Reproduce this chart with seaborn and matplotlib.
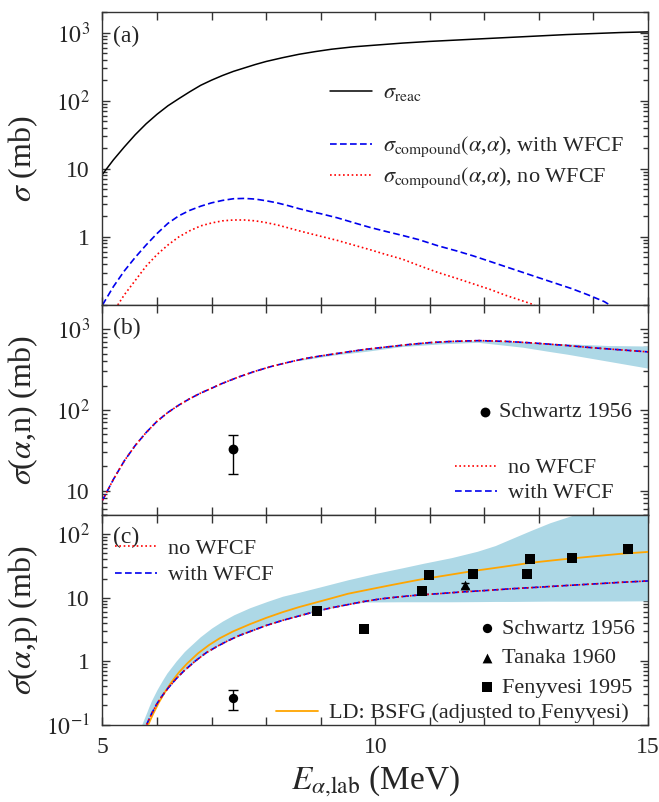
import numpy as np
import pandas as pd
import matplotlib
matplotlib.use("Agg")
import matplotlib.pyplot as plt
import seaborn as sns
from matplotlib.ticker import FixedLocator, LogLocator, NullFormatter, MultipleLocator, FixedFormatter

# ---------------- data ----------------
# panel (a)
E_reac = [5.0, 5.2, 5.4, 5.6, 5.8, 6.0, 6.2, 6.4, 6.6, 6.8, 7.0, 7.2, 7.4, 7.6, 7.8, 8.0,
          8.3, 8.6, 8.9, 9.2, 9.6, 10.0, 10.5, 11.0, 11.5, 12.0, 12.5, 13.0, 13.5, 14.0,
          14.5, 15.0]
sig_reac = [8.3, 13.5, 20.9, 31.6, 45.7, 63.1, 84.1, 107, 135, 168, 200, 234, 269, 302, 339,
            376, 427, 479, 525, 569, 617, 653, 700, 741, 776, 813, 851, 891, 933, 966,
            1000, 1023]

E_comp_w = [5.0, 5.2, 5.4, 5.6, 5.8, 6.0, 6.2, 6.4, 6.6, 6.8, 7.0, 7.2, 7.4, 7.6, 7.8, 8.0,
            8.2, 8.4, 8.6, 8.8, 9.0, 9.3, 9.6, 9.9, 10.2, 10.5, 10.8, 11.15, 11.5, 11.8,
            12.1, 12.4, 12.7, 13.0, 13.3, 13.6, 13.9, 14.2, 14.3]
sig_comp_w = [0.1, 0.186, 0.316, 0.50, 0.76, 1.12, 1.58, 2.04, 2.45, 2.82, 3.16, 3.43, 3.63,
              3.67, 3.59, 3.39, 3.16, 2.88, 2.60, 2.37, 2.19, 1.91, 1.62, 1.38, 1.20, 1.05,
              0.91, 0.74, 0.62, 0.525, 0.437, 0.363, 0.302, 0.251, 0.209, 0.174, 0.141,
              0.112, 0.1]

E_comp_n = [5.28, 5.4, 5.6, 5.8, 6.0, 6.2, 6.4, 6.6, 6.8, 7.0, 7.2, 7.4, 7.6, 7.8, 8.0, 8.2,
            8.4, 8.6, 8.8, 9.0, 9.3, 9.6, 9.9, 10.2, 10.5, 10.8, 11.15, 11.5, 11.8, 12.1,
            12.4, 12.7, 12.92]
sig_comp_n = [0.1, 0.141, 0.229, 0.372, 0.55, 0.76, 1.0, 1.23, 1.45, 1.60, 1.72, 1.77, 1.77,
              1.72, 1.62, 1.50, 1.36, 1.23, 1.12, 1.02, 0.89, 0.76, 0.65, 0.55, 0.47, 0.38,
              0.30, 0.245, 0.204, 0.17, 0.138, 0.115, 0.1]

# panel (b)  (alpha,n)
E_an = [5.0, 5.2, 5.4, 5.6, 5.8, 6.0, 6.2, 6.4, 6.6, 6.8, 7.0, 7.2, 7.5, 7.8, 8.1, 8.4, 8.7,
        9.0, 9.4, 9.8, 10.2, 10.6, 11.0, 11.4, 11.9, 12.4, 12.9, 13.5, 14.0, 14.5, 15.0]
sig_an = [7.6, 13.8, 23.4, 36.3, 52.5, 72.4, 93.3, 115, 138, 162, 186, 214, 257, 302, 347,
          389, 432, 468, 513, 562, 603, 646, 684, 708, 724, 708, 676, 631, 589, 556, 525]
band_b_E = [8.6, 9.24, 9.85, 10.47, 11.2, 11.88, 12.7, 13.2, 13.53, 14.26, 15.0]
band_b_lo = [410, 480, 535, 610, 660, 690, 600, 530, 490, 403, 330]
band_b_hi = [430, 505, 575, 650, 705, 735, 700, 670, 660, 630, 620]
schw_b_E, schw_b_y, schw_b_lo, schw_b_hi = [7.40], [33.0], [16.7], [16.0]

# panel (c)  (alpha,p)
E_ap = [5.81, 5.9, 6.0, 6.1, 6.2, 6.35, 6.5, 6.7, 6.9, 7.1, 7.3, 7.5, 7.75, 8.0, 8.3, 8.6,
        8.9, 9.2, 9.5, 9.8, 10.1, 10.4, 10.8, 11.2, 11.6, 12.0, 12.5, 13.0, 13.5, 14.0,
        14.5, 15.0]
sig_ap = [0.1, 0.148, 0.214, 0.288, 0.372, 0.525, 0.708, 1.0, 1.35, 1.70, 2.09, 2.51, 3.02,
          3.63, 4.37, 5.13, 6.03, 6.92, 7.76, 8.71, 9.55, 10.2, 11.0, 11.6, 12.3, 12.9,
          13.8, 14.6, 15.5, 16.4, 17.4, 18.3]
E_ld = [5.84, 5.93, 6.03, 6.13, 6.25, 6.4, 6.55, 6.75, 6.95, 7.15, 7.4, 7.7, 8.0, 8.3, 8.6,
        8.9, 9.2, 9.5, 9.9, 10.3, 10.8, 11.3, 11.8, 12.3, 12.86, 13.4, 14.0, 14.5, 15.0]
sig_ld = [0.1, 0.148, 0.219, 0.309, 0.447, 0.661, 0.912, 1.32, 1.78, 2.29, 2.95, 3.80, 4.79,
          5.89, 7.08, 8.32, 9.77, 11.5, 13.5, 15.8, 19.1, 22.4, 26.3, 30.2, 35.5, 39.8,
          44.7, 49.0, 52.5]
band_c_E = [5.72, 5.81, 5.85, 5.9, 6.0, 6.1, 6.18, 6.35, 6.5, 6.55, 6.79, 7.0, 7.2, 7.41,
            7.7, 8.02, 8.3, 8.63, 9.0, 9.5, 9.8, 10.0, 10.5, 10.88, 11.4, 11.87, 12.2,
            12.5, 12.86, 13.2, 13.52, 13.8, 14.5, 15.0]
band_c_lo = [0.09, 0.1, 0.12, 0.148, 0.214, 0.288, 0.355, 0.525, 0.708, 0.76, 1.15, 1.52,
             1.9, 2.3, 2.9, 3.7, 4.37, 5.2, 6.3, 7.76, 8.5, 8.55, 8.6, 8.6, 8.6, 8.65, 8.7,
             8.7, 8.75, 8.8, 8.8, 8.8, 8.85, 8.9]
band_c_hi = [0.1, 0.155, 0.19, 0.24, 0.355, 0.50, 0.645, 1.0, 1.41, 1.55, 2.4, 3.31, 4.27,
             5.37, 6.92, 8.71, 10.5, 12.3, 14.8, 19.1, 21.9, 24.0, 29.5, 34.7, 42.7, 53.7,
             66.1, 85.1, 115, 151, 186, 224, 316, 316]
schw_c_E, schw_c_y, schw_c_lo, schw_c_hi = [7.40], [0.26], [0.09], [0.095]
tanaka_E, tanaka_y, tanaka_err = [11.65], [15.6], [1.5]
feny_E = [8.94, 9.80, 10.86, 10.98, 11.79, 12.79, 12.84, 13.60, 14.64]
feny_y = [6.15, 3.15, 12.7, 22.5, 23.3, 23.9, 41.3, 42.8, 59.4]

# ---------------- style ----------------
sns.set_style("ticks")
plt.rcParams["font.family"] = ["Liberation Serif", "DejaVu Serif"]
plt.rcParams["mathtext.fontset"] = "stix"
plt.rcParams["axes.linewidth"] = 1.0

BLUE, RED, ORANGE, BAND = "#0000ee", "#ff0000", "#ffa500", "#add8e6"
DASH = (0, (4, 2))
DOT = (0, (1, 1.6))
TICK_FS = 17
LEG_FS = 16

fig = plt.figure(figsize=(6.59, 8.02), dpi=100)
L, W = 0.1555, 0.8278
ax_a = fig.add_axes([L, 0.6197, W, 0.3653])
ax_b = fig.add_axes([L, 0.3579, W, 0.2618], sharex=ax_a)
ax_c = fig.add_axes([L, 0.0966, W, 0.2612], sharex=ax_a)

# ---------------- panel (a) ----------------
sns.lineplot(x=E_reac, y=sig_reac, ax=ax_a, color="black", lw=1.1, legend=False)
h_reac = ax_a.lines[-1]
sns.lineplot(x=E_comp_w, y=sig_comp_w, ax=ax_a, color=BLUE, lw=1.2, linestyle=DASH, legend=False)
h_cw = ax_a.lines[-1]
sns.lineplot(x=E_comp_n, y=sig_comp_n, ax=ax_a, color=RED, lw=1.2, linestyle=DOT, legend=False)
h_cn = ax_a.lines[-1]

# ---------------- panel (b) ----------------
ax_b.fill_between(band_b_E, band_b_lo, band_b_hi, color=BAND, lw=0, zorder=1)
sns.lineplot(x=E_an, y=sig_an, ax=ax_b, color=BLUE, lw=1.2, linestyle=DASH, legend=False, zorder=3)
hb_w = ax_b.lines[-1]
sns.lineplot(x=E_an, y=sig_an, ax=ax_b, color=RED, lw=1.2, linestyle=DOT, legend=False, zorder=4)
hb_n = ax_b.lines[-1]
ax_b.errorbar(schw_b_E, schw_b_y, yerr=[schw_b_lo, schw_b_hi], fmt="none", ecolor="black",
              elinewidth=1.0, capsize=3.5, capthick=1.0, zorder=5)
sns.scatterplot(x=schw_b_E, y=schw_b_y, ax=ax_b, marker="o", s=50, color="black",
                linewidth=0, legend=False, zorder=6)
hb_s = ax_b.collections[-1]

# ---------------- panel (c) ----------------
ax_c.fill_between(band_c_E, band_c_lo, band_c_hi, color=BAND, lw=0, zorder=1)
sns.lineplot(x=E_ld, y=sig_ld, ax=ax_c, color=ORANGE, lw=1.3, legend=False, zorder=3)
hc_ld = ax_c.lines[-1]
sns.lineplot(x=E_ap, y=sig_ap, ax=ax_c, color=BLUE, lw=1.2, linestyle=DASH, legend=False, zorder=4)
hc_w = ax_c.lines[-1]
sns.lineplot(x=E_ap, y=sig_ap, ax=ax_c, color=RED, lw=1.2, linestyle=DOT, legend=False, zorder=5)
hc_n = ax_c.lines[-1]
ax_c.errorbar(schw_c_E, schw_c_y, yerr=[schw_c_lo, schw_c_hi], fmt="none", ecolor="black",
              elinewidth=1.0, capsize=3.5, capthick=1.0, zorder=6)
ax_c.errorbar(tanaka_E, tanaka_y, yerr=[tanaka_err, tanaka_err], fmt="none", ecolor="black",
              elinewidth=1.0, capsize=3.0, capthick=1.0, zorder=6)
sns.scatterplot(x=schw_c_E, y=schw_c_y, ax=ax_c, marker="o", s=45, color="black",
                linewidth=0, legend=False, zorder=7)
hc_s = ax_c.collections[-1]
sns.scatterplot(x=tanaka_E, y=tanaka_y, ax=ax_c, marker="^", s=50, color="black",
                linewidth=0, legend=False, zorder=7)
hc_t = ax_c.collections[-1]
sns.scatterplot(x=feny_E, y=feny_y, ax=ax_c, marker="s", s=50, color="black",
                linewidth=0, legend=False, zorder=7)
hc_f = ax_c.collections[-1]

# ---------------- axes formatting ----------------
def fmt_log(v):
    if v == 1:
        return "1"
    if v == 10:
        return "10"
    e = int(round(np.log10(v)))
    return r"$10^{%d}$" % e

ylims = {ax_a: (0.1, 2000), ax_b: (5, 2000), ax_c: (0.1, 200)}
yticks = {ax_a: [1, 10, 100, 1000], ax_b: [10, 100, 1000], ax_c: [0.1, 1, 10, 100]}
for ax in (ax_a, ax_b, ax_c):
    ax.set_yscale("log")
    ax.set_ylim(*ylims[ax])
    ax.set_xlim(5, 15)
    ax.yaxis.set_major_locator(FixedLocator(yticks[ax]))
    ax.yaxis.set_major_formatter(FixedFormatter([fmt_log(v) for v in yticks[ax]]))
    ax.yaxis.set_minor_locator(LogLocator(base=10, subs=np.arange(2, 10), numticks=20))
    ax.yaxis.set_minor_formatter(NullFormatter())
    ax.xaxis.set_major_locator(FixedLocator([5, 10, 15]))
    ax.xaxis.set_minor_locator(MultipleLocator(1))
    ax.tick_params(which="both", direction="in", top=True, right=True,
                   labelsize=TICK_FS, pad=9, color="#333333", width=1.0)
    ax.tick_params(axis="y", which="major", length=6)
    ax.tick_params(axis="y", which="minor", length=3.5)
    ax.tick_params(axis="x", which="both", length=5.5)
    for s in ax.spines.values():
        s.set_color("#333333")
    ax.set_xlabel("")

ax_a.tick_params(axis="x", labelbottom=False)
ax_b.tick_params(axis="x", labelbottom=False)

ax_a.set_ylabel(r"$\sigma$ (mb)", fontsize=23)
ax_b.set_ylabel(r"$\sigma$($\alpha$,n) (mb)", fontsize=23)
ax_c.set_ylabel(r"$\sigma$($\alpha$,p) (mb)", fontsize=23)
for ax in (ax_a, ax_b, ax_c):
    ax.yaxis.set_label_coords(-0.115, 0.5)
ax_c.set_xlabel(r"$E_{\alpha{,}\mathrm{lab}}$ (MeV)", fontsize=24, labelpad=4)

for ax, lab, yy in ((ax_a, "(a)", 0.918), (ax_b, "(b)", 0.886), (ax_c, "(c)", 0.893)):
    ax.text(0.019, yy, lab, transform=ax.transAxes, fontsize=TICK_FS, va="center", ha="left")

# ---------------- legends ----------------
lkw = dict(frameon=False, fontsize=LEG_FS, borderpad=0, borderaxespad=0,
           handlelength=1.9, handletextpad=0.5)
mkw = dict(frameon=False, fontsize=LEG_FS, borderpad=0, borderaxespad=0,
           handlelength=0.8, handletextpad=0.25, scatterpoints=1)

leg = ax_a.legend([h_reac], [r"$\sigma_{\mathrm{reac}}$"], loc="center left",
                  bbox_to_anchor=(0.417, 0.7235), **lkw)
ax_a.add_artist(leg)
ax_a.legend([h_cw, h_cn],
            [r"$\sigma_{\mathrm{compound}}(\alpha$,$\alpha$), with WFCF",
             r"$\sigma_{\mathrm{compound}}(\alpha$,$\alpha$), no WFCF"],
            loc="center left", bbox_to_anchor=(0.417, 0.486), labelspacing=0.3, **lkw)

leg = ax_b.legend([hb_s], ["Schwartz 1956"], loc="center left",
                  bbox_to_anchor=(0.685, 0.490), **mkw)
ax_b.add_artist(leg)
ax_b.legend([hb_n, hb_w], ["no WFCF", "with WFCF"], loc="center left",
            bbox_to_anchor=(0.646, 0.164), labelspacing=0.2, **lkw)

leg = ax_c.legend([hc_n, hc_w], ["no WFCF", "with WFCF"], loc="center left",
                  bbox_to_anchor=(0.023, 0.776), labelspacing=0.25, **lkw)
ax_c.add_artist(leg)
leg = ax_c.legend([hc_s, hc_t, hc_f], ["Schwartz 1956", "Tanaka 1960", "Fenyvesi 1995"],
                  loc="center left", bbox_to_anchor=(0.689, 0.317), labelspacing=0.4, **mkw)
ax_c.add_artist(leg)
ax_c.legend([hc_ld], ["LD: BSFG (adjusted to Fenyvesi)"], loc="center left",
            bbox_to_anchor=(0.318, 0.055), **lkw)

fig.savefig("out.png", dpi=100)
